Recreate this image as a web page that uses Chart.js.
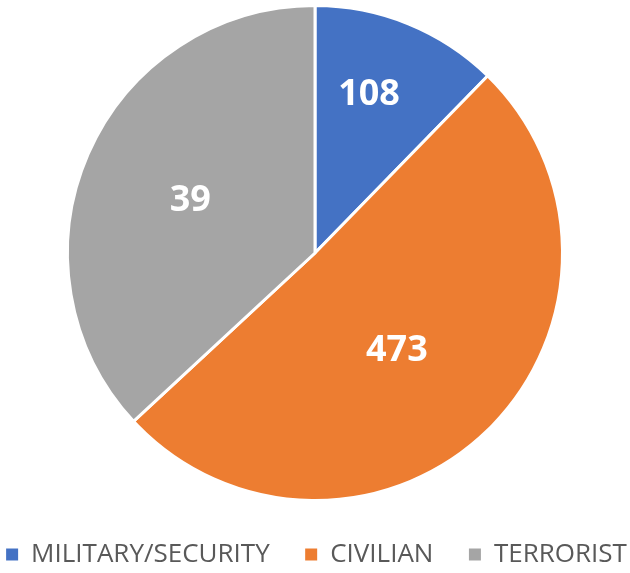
<!DOCTYPE html>
<html>
<head>
<meta charset="utf-8">
<script src="https://cdn.jsdelivr.net/npm/chart.js@4/dist/chart.umd.min.js"></script>
<style>
    html, body { margin: 0; padding: 0; background: #fff; }
    #wrap { width: 630px; height: 573px; }
</style>
</head>
<body>
<div id="wrap"><canvas id="pieChart" width="630" height="573"></canvas></div>
<script>
// categories and values
const categories = ['MILITARY/SECURITY', 'CIVILIAN', 'TERRORIST'];
// numbers printed on the slices
const shownCounts = [108, 473, 39];
// share of the circle each slice takes in the picture (percent)
const sliceShares = [12.3, 50.8, 36.9];
const sliceColors = ['#4472C4', '#ED7D31', '#A5A5A5'];

// labels drawn inside the slices, like Excel data labels
const sliceLabels = {
    id: 'sliceLabels',
    afterDatasetsDraw(chart, args, opts) {
        const ctx = chart.ctx;
        const meta = chart.getDatasetMeta(0);
        ctx.save();
        ctx.fillStyle = '#fff';
        ctx.font = 'bold 36px "Open Sans", "Liberation Sans", sans-serif';
        ctx.textAlign = 'center';
        ctx.textBaseline = 'middle';
        meta.data.forEach((arc, i) => {
            const p = arc.getProps(['x', 'y', 'startAngle', 'endAngle', 'outerRadius'], true);
            const a = p.startAngle + (p.endAngle - p.startAngle) * opts.angle[i];
            const r = p.outerRadius * opts.radius[i];
            ctx.fillText(String(shownCounts[i]), p.x + Math.cos(a) * r, p.y + Math.sin(a) * r + 2);
        });
        ctx.restore();
    }
};

const ctx = document.getElementById('pieChart').getContext('2d');
new Chart(ctx, {
    type: 'pie',
    data: {
        labels: categories,
        datasets: [{
            data: sliceShares,
            backgroundColor: sliceColors,
            borderColor: '#fff',
            borderWidth: 3,
            radius: 247.5
        }]
    },
    options: {
        responsive: false,
        animation: false,
        // wide negative sides so the legend stays on one row
        layout: { padding: { top: 0, left: -37, right: -40, bottom: 0 } },
        plugins: {
            legend: {
                position: 'bottom',
                maxHeight: 67,
                labels: {
                    boxWidth: 12,
                    boxHeight: 12,
                    padding: 35.5,
                    color: '#595959',
                    font: { family: '"Open Sans", "Liberation Sans", sans-serif', size: 26 },
                    // plain squares, no white outline from the slice border
                    generateLabels(chart) {
                        const items = Chart.overrides.pie.plugins.legend.labels.generateLabels(chart);
                        items.forEach(it => { it.lineWidth = 0; });
                        return items;
                    }
                }
            },
            tooltip: { enabled: false },
            sliceLabels: { radius: [0.685, 0.51, 0.55], angle: [0.42, 0.521, 0.5] }
        }
    },
    plugins: [sliceLabels]
});
</script>
</body>
</html>
